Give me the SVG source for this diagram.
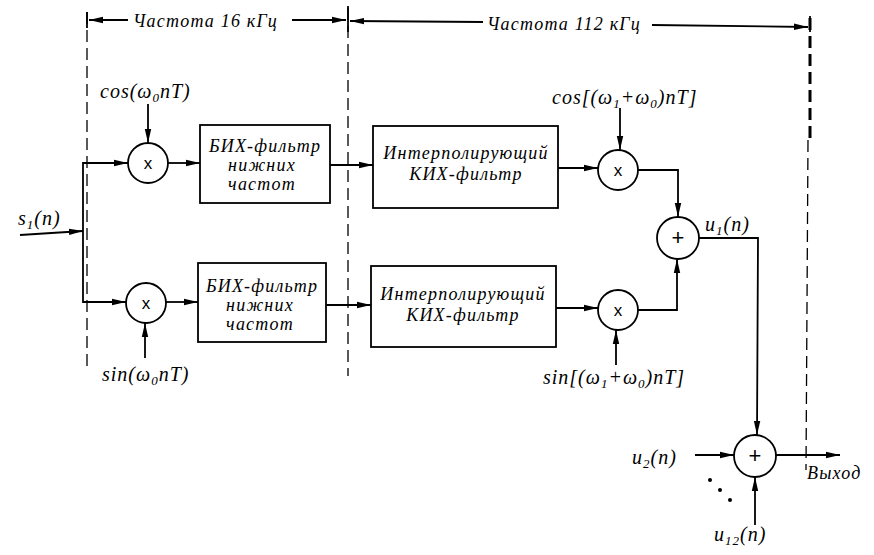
<svg xmlns="http://www.w3.org/2000/svg" width="874" height="555" viewBox="0 0 874 555">
<style>
.ln{fill:none;stroke:#000;stroke-width:1.8}
.dash{fill:none;stroke:#000;stroke-width:1.3;stroke-dasharray:12 6}
.box{fill:#fff;stroke:#000;stroke-width:1.8}
.t{font-family:"Liberation Serif","DejaVu Serif",serif;font-style:italic;font-size:18px;letter-spacing:1.2px;fill:#000}
.f{font-size:20px;letter-spacing:1px}
.c{text-anchor:middle}
.op{font-family:"Liberation Sans",Arial,sans-serif;font-size:17px;fill:#000;text-anchor:middle}
</style>
<defs>
<marker id="ar" viewBox="0 0 14 8" refX="14" refY="4" markerWidth="14" markerHeight="8" markerUnits="userSpaceOnUse" orient="auto">
<path d="M0,0.8 L14,4 L0,7.2 z" fill="#000"/>
</marker>
</defs>
<rect width="874" height="555" fill="#fff"/>

<g id="boundaries">
<line class="dash" x1="87" y1="12" x2="87" y2="372"/>
<line class="dash" x1="348" y1="8" x2="348" y2="376"/>
<line class="dash" x1="810" y1="18" x2="810" y2="140" style="stroke-width:3"/>
<line class="dash" x1="808" y1="140" x2="806" y2="470"/>
<line class="ln" x1="87" y1="12" x2="87" y2="28"/>
<line class="ln" x1="348" y1="6" x2="348" y2="32"/>
<line class="ln" x1="810" y1="16" x2="810" y2="32"/>
<line class="ln" x1="128" y1="20" x2="89" y2="20" marker-end="url(#ar)"/>
<line class="ln" x1="292" y1="20" x2="346" y2="20" marker-end="url(#ar)"/>
<line class="ln" x1="483" y1="22" x2="350" y2="21" marker-end="url(#ar)"/>
<line class="ln" x1="652" y1="25" x2="808" y2="27" marker-end="url(#ar)"/>
<text class="t" x="133" y="27">Частота 16 кГц</text>
<text class="t" x="487" y="30">Частота 112 кГц</text>
</g>

<g id="mult1"><circle class="box" cx="148" cy="163" r="20"/><text class="op" x="148" y="169">x</text></g>
<g id="mult2"><circle class="box" cx="146" cy="303" r="20"/><text class="op" x="146" y="309">x</text></g>
<g id="lpf1"><rect class="box" x="200" y="125" width="130" height="78"/>
<text class="t c" x="265" y="152">БИХ-фильтр</text><text class="t c" x="262" y="171">нижних</text><text class="t c" x="262" y="190">частот</text></g>
<g id="lpf2"><rect class="box" x="198" y="263" width="128" height="79"/>
<text class="t c" x="262" y="292">БИХ-фильтр</text><text class="t c" x="260" y="311">нижних</text><text class="t c" x="260" y="330">частот</text></g>
<g id="fir1"><rect class="box" x="373" y="126" width="185" height="82"/>
<text class="t c" x="466" y="159">Интерполирующий</text><text class="t c" x="466" y="180">КИХ-фильтр</text></g>
<g id="fir2"><rect class="box" x="371" y="266" width="185" height="81"/>
<text class="t c" x="463" y="300">Интерполирующий</text><text class="t c" x="463" y="321">КИХ-фильтр</text></g>
<g id="mult3"><circle class="box" cx="618" cy="170" r="20"/><text class="op" x="618" y="176">x</text></g>
<g id="mult4"><circle class="box" cx="618" cy="310" r="20"/><text class="op" x="618" y="316">x</text></g>
<g id="sum1"><circle class="box" cx="678" cy="238" r="21"/><text class="op" x="678" y="245" style="font-size:22px">+</text></g>
<g id="sum2"><circle class="box" cx="755" cy="456" r="21"/><text class="op" x="755" y="463" style="font-size:22px">+</text></g>

<g id="labels">
<text class="t f" x="18" y="225">s<tspan dy="4" font-size="13">1</tspan><tspan dy="-4">(n)</tspan></text>
<text class="t f" x="100" y="98">cos(ω<tspan dy="4" font-size="13">0</tspan><tspan dy="-4">nT)</tspan></text>
<text class="t f" x="102" y="381">sin(ω<tspan dy="4" font-size="13">0</tspan><tspan dy="-4">nT)</tspan></text>
<text class="t f" x="552" y="104">cos[(ω<tspan dy="4" font-size="13">1</tspan><tspan dy="-4">+ω</tspan><tspan dy="4" font-size="13">0</tspan><tspan dy="-4">)nT]</tspan></text>
<text class="t f" x="543" y="384">sin[(ω<tspan dy="4" font-size="13">1</tspan><tspan dy="-4">+ω</tspan><tspan dy="4" font-size="13">0</tspan><tspan dy="-4">)nT]</tspan></text>
<text class="t f" x="705" y="231">u<tspan dy="4" font-size="13">1</tspan><tspan dy="-4">(n)</tspan></text>
<text class="t f" x="632" y="464">u<tspan dy="4" font-size="13">2</tspan><tspan dy="-4">(n)</tspan></text>
<text class="t f" x="714" y="541">u<tspan dy="4" font-size="13">12</tspan><tspan dy="-4">(n)</tspan></text>
<text class="t" x="807" y="479">Выход</text>
<circle cx="710" cy="480" r="2"/><circle cx="720" cy="490" r="2"/><circle cx="730" cy="500" r="2"/>
</g>

<g id="connectors">
<line class="ln" x1="20" y1="235" x2="83" y2="231" marker-end="url(#ar)"/>
<polyline class="ln" points="83,231 83,163 128,163" marker-end="url(#ar)"/>
<polyline class="ln" points="83,231 83,302 126,302" marker-end="url(#ar)"/>
<line class="ln" x1="148" y1="104" x2="148" y2="143" marker-end="url(#ar)"/>
<line class="ln" x1="145" y1="358" x2="145" y2="323" marker-end="url(#ar)"/>
<line class="ln" x1="168" y1="163" x2="200" y2="163" marker-end="url(#ar)"/>
<line class="ln" x1="166" y1="302" x2="198" y2="302" marker-end="url(#ar)"/>
<line class="ln" x1="330" y1="165" x2="373" y2="165" marker-end="url(#ar)"/>
<line class="ln" x1="326" y1="305" x2="371" y2="305" marker-end="url(#ar)"/>
<line class="ln" x1="558" y1="168" x2="598" y2="168" marker-end="url(#ar)"/>
<line class="ln" x1="556" y1="308" x2="598" y2="308" marker-end="url(#ar)"/>
<line class="ln" x1="620" y1="108" x2="620" y2="150" marker-end="url(#ar)"/>
<line class="ln" x1="616" y1="365" x2="616" y2="330" marker-end="url(#ar)"/>
<polyline class="ln" points="638,170 678,170 678,217" marker-end="url(#ar)"/>
<polyline class="ln" points="638,310 677,310 677,259" marker-end="url(#ar)"/>
<polyline class="ln" points="699,238 758,238 757,435" marker-end="url(#ar)"/>
<line class="ln" x1="695" y1="455" x2="734" y2="455" marker-end="url(#ar)"/>
<line class="ln" x1="755" y1="525" x2="755" y2="477" marker-end="url(#ar)"/>
<line class="ln" x1="776" y1="455" x2="840" y2="455" marker-end="url(#ar)"/>
</g>
</svg>
